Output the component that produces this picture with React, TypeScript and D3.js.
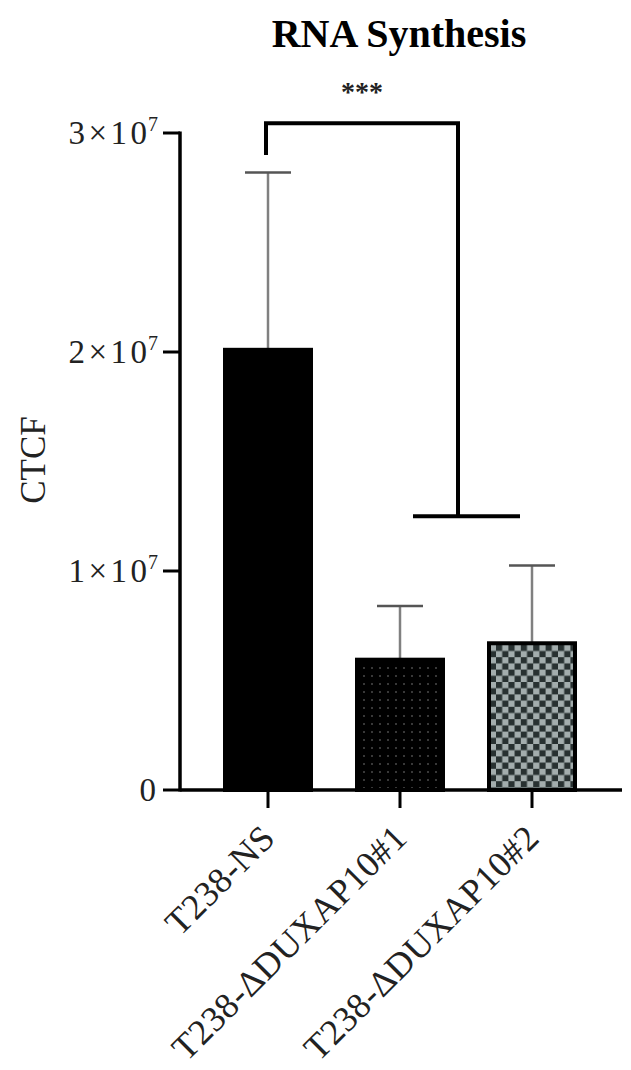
import React from "react";
import * as d3 from "d3";

const categories = ["T238-NS", "T238-ΔDUXAP10#1", "T238-ΔDUXAP10#2"];
const means = [2.01e7, 5.95e6, 6.7e6];
const errors = [0.81e7, 0.245e7, 0.355e7];
const yTicks = [0, 1e7, 2e7, 3e7];
const title = "RNA Synthesis";
const yLabel = "CTCF";
const sigLabel = "***";
// bracket: left group value, top, right bottom value
const bracketLeftBottom = 2.9e7;
const bracketTop = 3.045e7;
const bracketRightBottom = 1.25e7;

const W = 631;
const H = 1070;

export default function App() {
  const y = d3.scaleLinear().domain([0, 3e7]).range([790, 133]);
  const x = d3.scaleBand<string>().domain(categories).range([202, 598]).padding(0);
  const cx = (c: string) => (x(c) as number) + x.bandwidth() / 2;
  const barW = 86;
  const fills = ["#000", "url(#dots)", "url(#checker)"];
  const serif = "'Liberation Serif', 'Times New Roman', serif";
  const bx1 = cx(categories[0]) - 2;
  const bx2 = 458;

  return (
    <svg width={W} height={H} style={{ position: "absolute", left: 0, top: 0, background: "#fff" }}>
      <defs>
        <pattern id="dots" width="8" height="8" patternUnits="userSpaceOnUse">
          <rect width="8" height="8" fill="#000" />
          <circle cx="4" cy="4" r="1" fill="#4a4a4a" />
        </pattern>
        <pattern id="checker" width="12.4" height="12.4" patternUnits="userSpaceOnUse">
          <rect width="12.4" height="12.4" fill="#a3adad" />
          <rect width="6.2" height="6.2" fill="#283131" />
          <rect x="6.2" y="6.2" width="6.2" height="6.2" fill="#283131" />
        </pattern>
      </defs>
      <rect width={W} height={H} fill="#fff" />
      <text x={399} y={47} textAnchor="middle" fontFamily={serif} fontWeight="bold" fontSize={40}>
        {title}
      </text>
      {/* error bars */}
      {categories.map((c, i) => (
        <g key={"e" + c}>
          <line x1={cx(c)} x2={cx(c)} y1={y(means[i])} y2={y(means[i] + errors[i])} stroke="#808080" strokeWidth={2.5} />
          <line x1={cx(c) - 23} x2={cx(c) + 23} y1={y(means[i] + errors[i])} y2={y(means[i] + errors[i])} stroke="#555" strokeWidth={2.5} />
        </g>
      ))}
      {/* bars */}
      {categories.map((c, i) => (
        <rect key={"b" + c} x={cx(c) - barW / 2} y={y(means[i])} width={barW} height={y(0) - y(means[i])} fill={fills[i]} stroke="#000" strokeWidth={4} />
      ))}
      {/* axes */}
      <line x1={180} x2={180} y1={y(3e7) - 1.5} y2={y(0) + 1.5} stroke="#000" strokeWidth={3.5} />
      <line x1={180} x2={622} y1={y(0)} y2={y(0)} stroke="#000" strokeWidth={3.5} />
      {yTicks.map((t) => (
        <g key={"yt" + t}>
          <line x1={163} x2={180} y1={y(t)} y2={y(t)} stroke="#000" strokeWidth={3} />
          {t === 0 ? (
            <text x={156} y={y(t) + 11} textAnchor="end" fontFamily={serif} fontSize={33} fill="#222">0</text>
          ) : (
            <text x={158} y={y(t) + 11} textAnchor="end" fontFamily={serif} fontSize={33} fill="#222">
              <tspan letterSpacing={3.5}>{String(t / 1e7) + "×1"}</tspan>
              <tspan>0</tspan>
              <tspan dy={-13} dx={1} fontSize={20}>7</tspan>
            </text>
          )}
        </g>
      ))}
      {categories.map((c) => (
        <g key={"xt" + c}>
          <line x1={cx(c)} x2={cx(c)} y1={y(0)} y2={y(0) + 18} stroke="#000" strokeWidth={3} />
          <text
            transform={`translate(${cx(c) + 9},${y(0) + 50}) rotate(-45)`}
            textAnchor="end"
            fontFamily={serif}
            fontSize={36}
            letterSpacing={0.5}
            fill="#222"
          >
            {c}
          </text>
        </g>
      ))}
      <text transform={`translate(45,460) rotate(-90)`} textAnchor="middle" fontFamily={serif} fontSize={35} fill="#222">
        {yLabel}
      </text>
      {/* significance bracket */}
      <path
        d={`M${bx1},${y(bracketLeftBottom)} V${y(bracketTop)} H${bx2} V${y(bracketRightBottom)}`}
        fill="none"
        stroke="#000"
        strokeWidth={4}
      />
      <line x1={413} x2={520} y1={y(bracketRightBottom)} y2={y(bracketRightBottom)} stroke="#000" strokeWidth={4} />
      <text x={362} y={101} textAnchor="middle" fontFamily={serif} fontWeight="bold" fontSize={28} fill="#222">
        {sigLabel}
      </text>
    </svg>
  );
}
